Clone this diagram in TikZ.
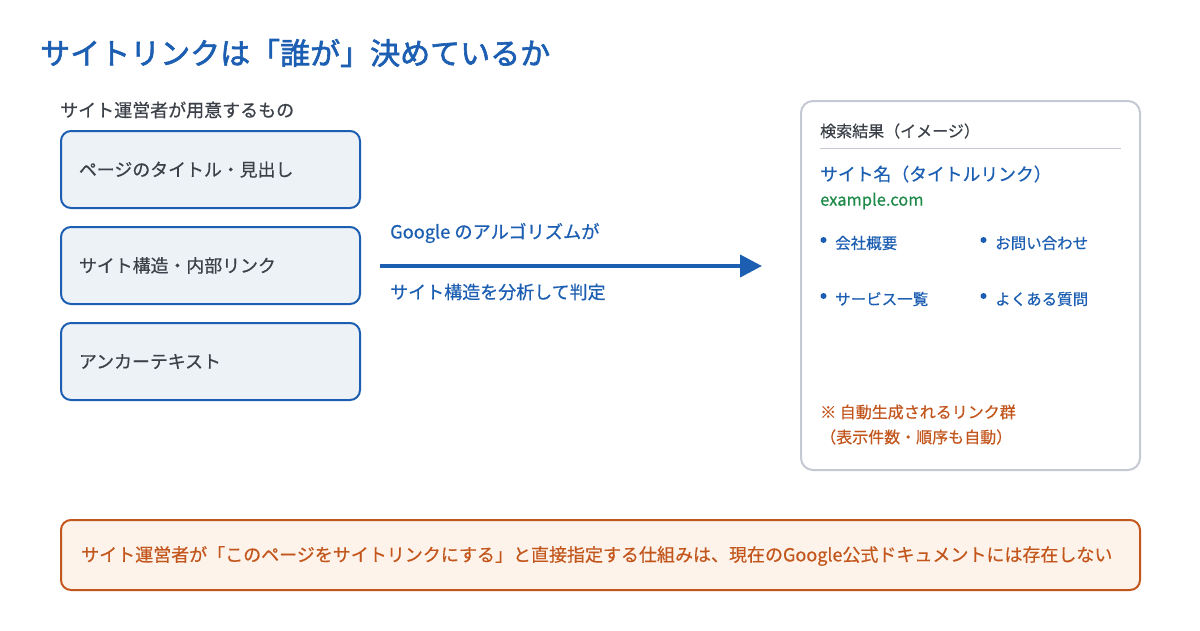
\documentclass[tikz,border=0pt]{standalone}
\usepackage{fontspec}
\setmainfont{Noto Sans CJK JP}
\usetikzlibrary{arrows.meta}
\definecolor{tblue}{HTML}{1C5FB2}
\definecolor{tgray}{HTML}{3C4149}
\definecolor{boxfill}{HTML}{EDF2F7}
\definecolor{panelline}{HTML}{C4C9D2}
\definecolor{torange}{HTML}{C2561C}
\definecolor{notefill}{HTML}{FDF3EA}
\definecolor{tgreen}{HTML}{1E8A48}
\newcommand{\fs}[1]{\fontsize{#1}{#1}\selectfont\addfontfeatures{FakeBold=0.5}}
\newcommand{\fst}[1]{\fontsize{#1}{#1}\selectfont\addfontfeatures{FakeBold=2}}
\tikzset{
  x=1pt, y=-1pt,
  srcbox/.style={draw=tblue, line width=2pt, fill=boxfill, rounded corners=10pt,
    minimum width=299pt, minimum height=77pt, text width=263pt, align=left,
    inner xsep=18pt, font=\fs{17.9}, text=tgray},
  txt/.style={anchor=west, inner sep=0pt},
  bullet/.style={circle, fill=tblue, inner sep=0pt, minimum size=6pt},
}
\begin{document}
\begin{tikzpicture}
\useasboundingbox (0,0) rectangle (1200,630);
\fill[white] (0,0) rectangle (1200,630);
% title
\node[txt, text=tblue, font=\fst{30}] (title) at (40,53) {サイトリンクは「誰が」決めているか};
\node[txt, text=tgray, font=\fs{18}] (sub) at (60,110) {サイト運営者が用意するもの};
% source boxes
\node[srcbox] (b1) at (210.5,169.5) {ページのタイトル・見出し};
\node[srcbox] (b2) at (210.5,265.5) {サイト構造・内部リンク};
\node[srcbox] (b3) at (210.5,361.5) {アンカーテキスト};
% arrow
\coordinate (as) at (380,266);
\coordinate (ae) at (762,266);
\draw[tblue, line width=4pt, -{Triangle[length=22pt,width=22pt]}] (as) -- (ae);
\node[txt, text=tblue, font=\fs{18.2}] (al1) at (390,233) {Google のアルゴリズムが};
\node[txt, text=tblue, font=\fs{18}] (al2) at (390,292) {サイト構造を分析して判定};
% panel
\node[draw=panelline, line width=2pt, fill=white, rounded corners=12pt,
  minimum width=339pt, minimum height=369pt] (panel) at (970.5,285.5) {};
\node[txt, text=tgray, font=\fs{16}] (ph) at (820,131) {検索結果（イメージ）};
\coordinate (l1) at (820,148.5);
\coordinate (l2) at (1121,148.5);
\draw[panelline, line width=1pt] (l1) -- (l2);
\node[txt, text=tblue, font=\fs{17.8}] (stitle) at (820,174) {サイト名（タイトルリンク）};
\node[txt, text=tgreen, font=\fs{16.5}] (url) at (820,201) {example.com};
\node[bullet] (d1) at (823.5,240) {};
\node[txt, text=tblue, font=\fs{15.5}] (s1) at (835,243) {会社概要};
\node[bullet] (d2) at (983.5,240) {};
\node[txt, text=tblue, font=\fs{15.5}] (s2) at (995,243) {お問い合わせ};
\node[bullet] (d3) at (823.5,296) {};
\node[txt, text=tblue, font=\fs{15.5}] (s3) at (835,299) {サービス一覧};
\node[bullet] (d4) at (983.5,296) {};
\node[txt, text=tblue, font=\fs{15.5}] (s4) at (995,299) {よくある質問};
\node[txt, text=torange, font=\fs{16}] (n1) at (820,412) {※ 自動生成されるリンク群};
\node[txt, text=torange, font=\fs{16}] (n2) at (820,437) {（表示件数・順序も自動）};
% bottom note
\node[draw=torange, line width=2pt, fill=notefill, rounded corners=10pt,
  minimum width=1079pt, minimum height=70pt] (note) at (600.5,555) {};
\node[txt, text=torange, font=\fs{18}] (nt) at (81,556) {サイト運営者が「このページをサイトリンクにする」と直接指定する仕組みは、現在のGoogle公式ドキュメントには存在しない};
\end{tikzpicture}
\end{document}
